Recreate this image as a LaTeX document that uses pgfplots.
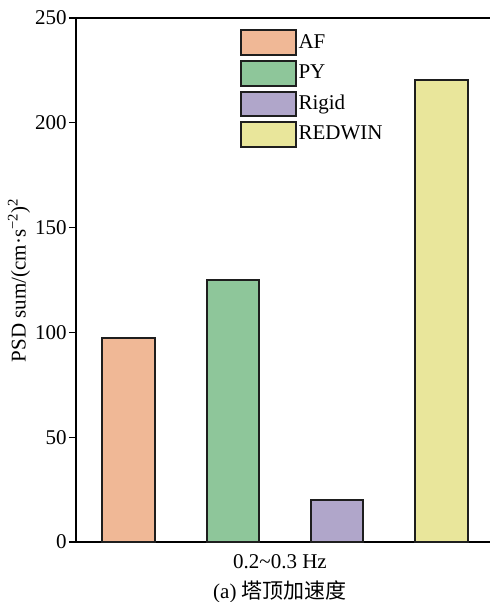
\documentclass[border=0pt]{standalone}
\usepackage{fontspec}
\setmainfont{Liberation Serif}
\newfontfamily\cjk{Noto Sans CJK SC}
\usepackage{pgfplots}
\pgfplotsset{compat=1.18}
\usetikzlibrary{calc}
\definecolor{cAF}{RGB}{240,184,150}
\definecolor{cPY}{RGB}{142,198,154}
\definecolor{cRI}{RGB}{176,166,202}
\definecolor{cRE}{RGB}{233,230,155}
\definecolor{cEdge}{RGB}{30,30,30}
\pgfplotsset{
  mybar/.style={ybar, bar width=0.503, bar shift=0pt, fill=#1, draw=cEdge, line width=1pt,
    legend image code/.code={\draw[fill=#1, draw=cEdge, line width=1pt] (0pt,-6.15pt) rectangle (27.5pt,6.15pt);}},
}
\begin{document}
\begin{tikzpicture}
\begin{axis}[name=ax, scale only axis, width=207pt, height=262pt,
  xmin=0.495, xmax=4.465, ymin=0, ymax=250,
  axis x line=box, axis y line=left,
  axis line style={-, line width=0.6pt, black},
  xtick=\empty, ytick={0,50,100,150,200,250},
  tick align=outside, major tick length=3.5pt,
  tick style={black, line width=0.6pt},
  /pgf/number format/assume math mode=true,
  tick label style={font=\fontsize{10.5}{12}\selectfont},
  yticklabel style={inner sep=1pt},
  xlabel={0.2\textasciitilde0.3 Hz\\(a) {\cjk 塔顶加速度}},
  xlabel style={align=center, font=\fontsize{10.5}{15}\selectfont, yshift=1pt, xshift=-1.5pt},
  ylabel={PSD sum/(cm·s\textsuperscript{−2})\textsuperscript{2}},
  ylabel style={font=\fontsize{10.5}{12}\selectfont, yshift=-2pt},
  legend style={at={(0.394,0.979)}, anchor=north west, draw=none, fill=none,
    inner sep=0pt, row sep=2pt, font=\fontsize{10.5}{12}\selectfont,
    nodes={inner sep=1pt}},
  legend cell align=left,
]
\addplot[mybar=cAF] coordinates {(1,97.1)};
\addplot[mybar=cPY] coordinates {(2,125)};
\addplot[mybar=cRI] coordinates {(3,19.9)};
\addplot[mybar=cRE] coordinates {(4,220.2)};
\legend{AF,PY,Rigid,REDWIN}
\end{axis}
\pgfresetboundingbox
\path (ax.south west) ++(-38pt,-30pt) rectangle ++(245pt,301pt);
\end{tikzpicture}
\end{document}
